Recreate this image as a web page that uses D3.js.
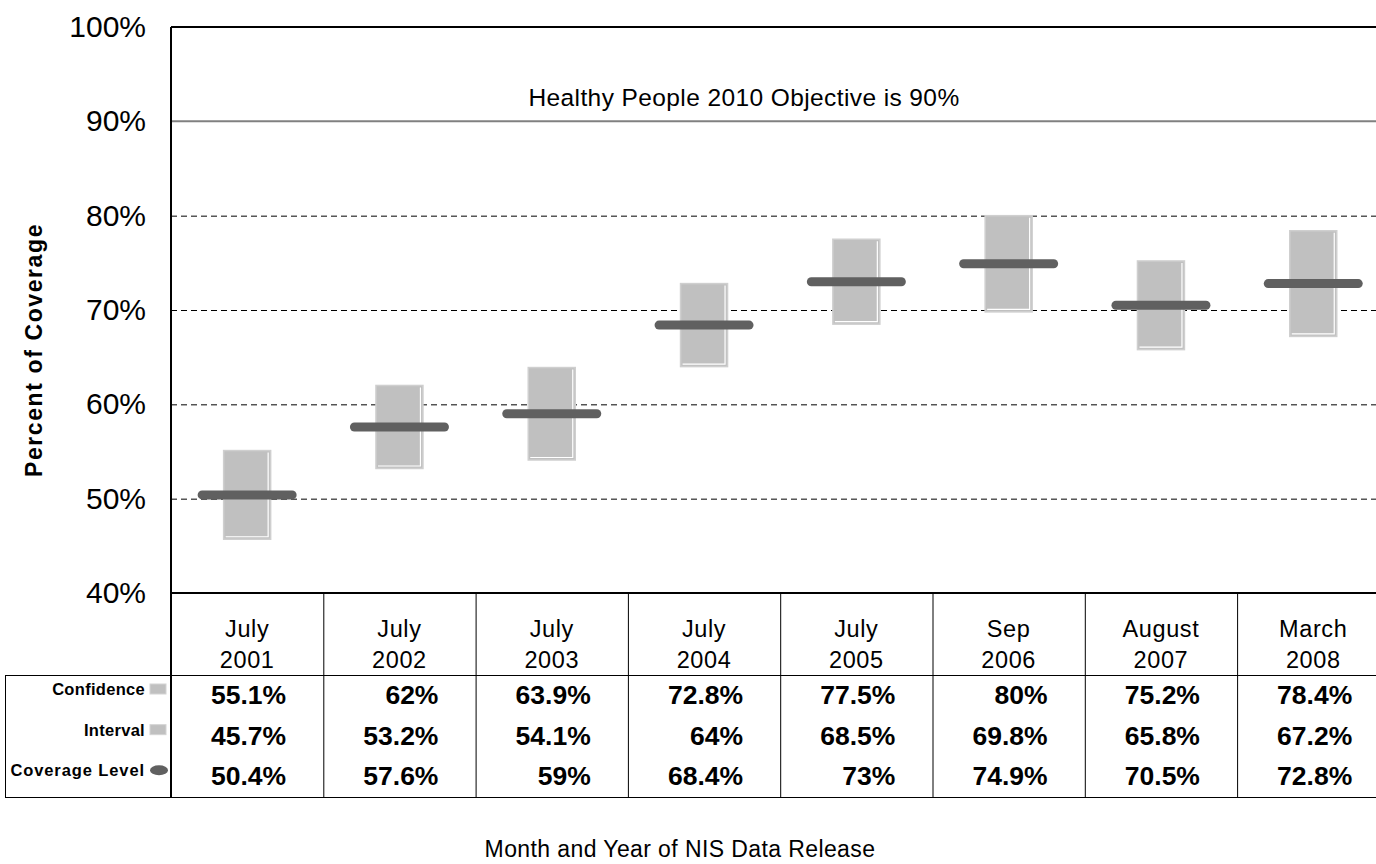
<!DOCTYPE html>
<html>
<head>
<meta charset="utf-8">
<script src="https://cdn.jsdelivr.net/npm/d3@7"></script>
<style>
  body { margin: 0; background: #fff; }
  text { font-family: "Liberation Sans", Arial, sans-serif; }
</style>
</head>
<body>
<div id="chart"></div>
<script>
// values
var months = ['July', 'July', 'July', 'July', 'July', 'Sep', 'August', 'March']
var years = ['2001', '2002', '2003', '2004', '2005', '2006', '2007', '2008']
var upper = [55.1, 62, 63.9, 72.8, 77.5, 80, 75.2, 78.4]
var lower = [45.7, 53.2, 54.1, 64, 68.5, 69.8, 65.8, 67.2]
var coverage = [50.4, 57.6, 59, 68.4, 73, 74.9, 70.5, 72.8]
var yTicks = [40, 50, 60, 70, 80, 90, 100]
var rowNames = ['Confidence', 'Interval', 'Coverage Level']

var width = 1376
var height = 864

// plot box -- right side runs off the page like in the original
// (careful: "top" is taken by window.top, so plotTop etc.)
var plotLeft = 171, plotTop = 27, plotBottom = 593
var plotRight = plotLeft + 8 * 152.3

var svg = d3.select('#chart')
  .append('svg')
  .attr('width', width)
  .attr('height', height)

var keys = years.map(function (d, i) { return i })

var x = d3.scaleBand()
  .domain(keys)
  .range([plotLeft, plotRight])
  .padding(0)

var y = d3.scaleLinear()
  .domain([40, 100])
  .range([plotBottom, plotTop])

// gridlines (dashed), 90% objective is solid gray
svg.append('g')
  .selectAll('line')
  .data([50, 60, 70, 80])
  .enter()
  .append('line')
  .attr('x1', plotLeft)
  .attr('x2', plotRight)
  .attr('y1', function (d) { return y(d) + 0.5 })
  .attr('y2', function (d) { return y(d) + 0.5 })
  .style('stroke', '#000')
  .style('stroke-width', 1)
  .style('stroke-dasharray', '6,4')

svg.append('line')
  .attr('x1', plotLeft)
  .attr('x2', plotRight)
  .attr('y1', y(90))
  .attr('y2', y(90))
  .style('stroke', '#808080')
  .style('stroke-width', 2)

svg.append('text')
  .attr('x', 744)
  .attr('y', y(90) - 15)
  .attr('text-anchor', 'middle')
  .style('font-size', '24.5px')
  .style('letter-spacing', '0.4px')
  .text('Healthy People 2010 Objective is 90%')

// y axis
var yAxis = svg.append('g')
  .attr('transform', 'translate(' + plotLeft + ',0)')
  .call(d3.axisLeft(y).tickValues(yTicks).tickSize(0).tickPadding(25)
    .tickFormat(function (d) { return d + '%' }))

yAxis.select('.domain').remove()
yAxis.selectAll('text')
  .style('font-size', '30px')
  .style('font-family', '"Liberation Sans", Arial, sans-serif')
  .attr('fill', '#000')

svg.append('text')
  .attr('transform', 'translate(42,350) rotate(-90)')
  .attr('text-anchor', 'middle')
  .style('font-size', '23px')
  .style('font-weight', 'bold')
  .style('letter-spacing', '1.6px')
  .text('Percent of Coverage')

// confidence interval boxes
var barW = 47
var bars = svg.append('g')
  .selectAll('g')
  .data(keys)
  .enter()
  .append('g')

bars.append('rect')
  .attr('x', function (i) { return x(i) + x.bandwidth() / 2 - barW / 2 })
  .attr('y', function (i) { return y(upper[i]) })
  .attr('width', barW)
  .attr('height', function (i) { return y(lower[i]) - y(upper[i]) })
  .style('fill', '#c0c0c0')
  .style('stroke', '#cfcfcf')
  .style('stroke-width', 1.5)

// little white bevel on the right and bottom
bars.append('polyline')
  .attr('points', function (i) {
    var x1 = x(i) + x.bandwidth() / 2 + barW / 2 - 2.5
    var x0 = x(i) + x.bandwidth() / 2 - barW / 2 + 2
    var y0 = y(upper[i]) + 2
    var y1 = y(lower[i]) - 2.5
    return x1 + ',' + y0 + ' ' + x1 + ',' + y1 + ' ' + x0 + ',' + y1
  })
  .style('fill', 'none')
  .style('stroke', '#fff')
  .style('stroke-width', 1.2)

// coverage level marks
var lineW = 99
bars.append('line')
  .attr('x1', function (i) { return x(i) + x.bandwidth() / 2 - lineW / 2 + 4.5 })
  .attr('x2', function (i) { return x(i) + x.bandwidth() / 2 + lineW / 2 - 4.5 })
  .attr('y1', function (i) { return y(coverage[i]) })
  .attr('y2', function (i) { return y(coverage[i]) })
  .style('stroke', '#606060')
  .style('stroke-width', 9)
  .style('stroke-linecap', 'round')

// plot frame
svg.append('line')
  .attr('x1', plotLeft).attr('x2', plotRight)
  .attr('y1', plotTop).attr('y2', plotTop)
  .style('stroke', '#000').style('stroke-width', 2)
svg.append('line')
  .attr('x1', plotLeft).attr('x2', plotRight)
  .attr('y1', plotBottom).attr('y2', plotBottom)
  .style('stroke', '#000').style('stroke-width', 2)

// data table
var tableTop = 675, tableBottom = 797, tableLeft = 5
var rowH = (tableBottom - tableTop) / 3

svg.append('line')
  .attr('x1', plotLeft).attr('x2', plotLeft)
  .attr('y1', plotTop).attr('y2', tableBottom)
  .style('stroke', '#000').style('stroke-width', 2)

svg.append('rect')
  .attr('x', tableLeft + 0.5)
  .attr('y', tableTop + 0.5)
  .attr('width', plotRight - tableLeft)
  .attr('height', tableBottom - tableTop)
  .style('fill', 'none')
  .style('stroke', '#000')
  .style('stroke-width', 1)

svg.append('g')
  .selectAll('line')
  .data(keys.slice(1))
  .enter()
  .append('line')
  .attr('x1', function (i) { return x(i) + 0.5 })
  .attr('x2', function (i) { return x(i) + 0.5 })
  .attr('y1', plotBottom)
  .attr('y2', tableBottom)
  .style('stroke', '#000')
  .style('stroke-width', 1)

// category labels, two lines
var cats = svg.append('g')
  .selectAll('g')
  .data(keys)
  .enter()
  .append('g')

cats.append('text')
  .attr('x', function (i) { return x(i) + x.bandwidth() / 2 })
  .attr('y', 637)
  .attr('text-anchor', 'middle')
  .style('font-size', '23.5px')
  .style('letter-spacing', '0.6px')
  .text(function (i) { return months[i] })

cats.append('text')
  .attr('x', function (i) { return x(i) + x.bandwidth() / 2 })
  .attr('y', 668)
  .attr('text-anchor', 'middle')
  .style('font-size', '23.5px')
  .style('letter-spacing', '0.6px')
  .text(function (i) { return years[i] })

// values, right aligned a bit past column centre (as Excel did it)
var rows = [upper, lower, coverage]
rows.forEach(function (vals, r) {
  svg.append('g')
    .selectAll('text')
    .data(keys)
    .enter()
    .append('text')
    .attr('x', function (i) { return x(i) + x.bandwidth() / 2 + 39 })
    .attr('y', tableTop + rowH * r + 29)
    .attr('text-anchor', 'end')
    .style('font-size', '26.5px')
    .style('font-weight', 'bold')
    .text(function (i) { return vals[i] + '%' })
})

// row legend
var legend = svg.append('g')
  .selectAll('g')
  .data(rowNames)
  .enter()
  .append('g')
  .attr('transform', function (d, r) { return 'translate(0,' + (tableTop + rowH * r) + ')' })

legend.append('text')
  .attr('x', 145)
  .attr('y', 20)
  .attr('text-anchor', 'end')
  .style('font-size', '16.5px')
  .style('font-weight', 'bold')
  .style('letter-spacing', function (d) { return d == 'Coverage Level' ? '0.9px' : '0.3px' })
  .text(function (d) { return d })

legend.filter(function (d, r) { return r < 2 })
  .append('rect')
  .attr('x', 150)
  .attr('y', 9)
  .attr('width', 16)
  .attr('height', 10)
  .style('fill', '#c0c0c0')
  .style('stroke', '#d4d4d4')
  .style('stroke-width', 1)

legend.filter(function (d, r) { return r == 2 })
  .append('ellipse')
  .attr('cx', 159)
  .attr('cy', 14)
  .attr('rx', 9)
  .attr('ry', 5)
  .style('fill', '#606060')

svg.append('text')
  .attr('x', 680)
  .attr('y', 857)
  .attr('text-anchor', 'middle')
  .style('font-size', '23px')
  .style('letter-spacing', '0.4px')
  .text('Month and Year of NIS Data Release')
</script>
</body>
</html>
